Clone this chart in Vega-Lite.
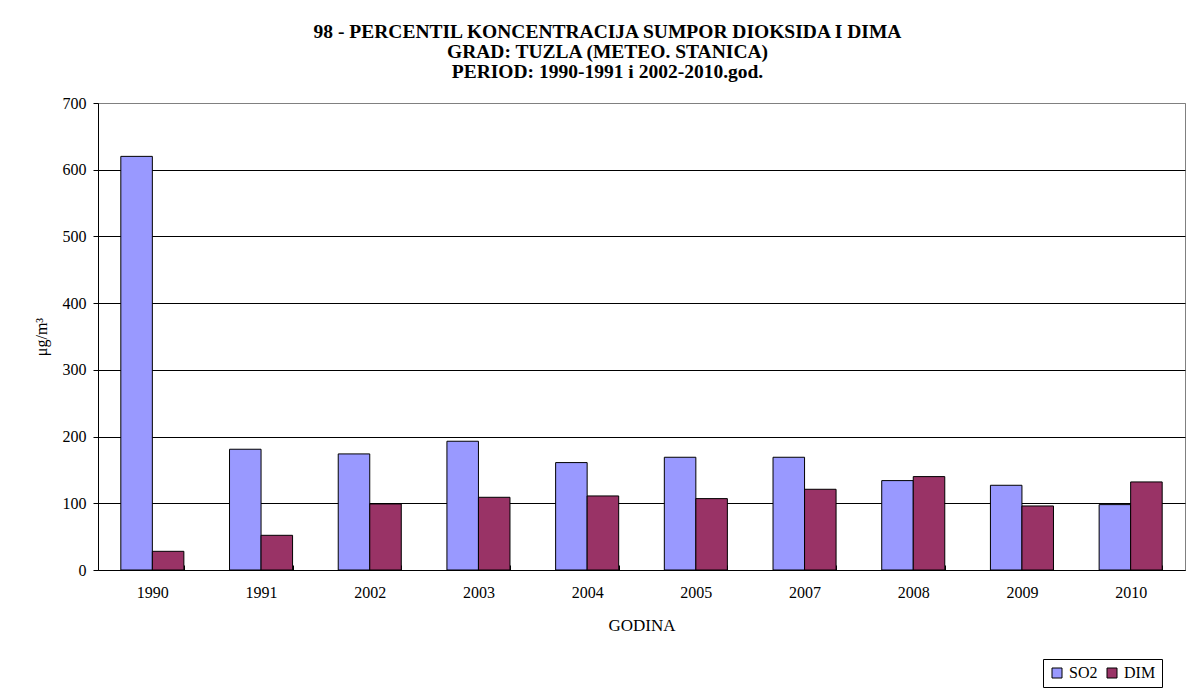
{
  "$schema": "https://vega.github.io/schema/vega-lite/v6.json",
  "autosize": "none",
  "width": 1087,
  "height": 467,
  "padding": {"left": 98, "top": 103, "right": 4, "bottom": 123},
  "background": "white",
  "title": {
    "text": ["98 - PERCENTIL KONCENTRACIJA SUMPOR DIOKSIDA I DIMA", "GRAD: TUZLA (METEO. STANICA)", "PERIOD: 1990-1991 i 2002-2010.god."],
    "anchor": "middle",
    "frame": "group",
    "dx": -34,
    "font": "Liberation Serif",
    "fontSize": 19.5,
    "fontWeight": "bold",
    "color": "black",
    "lineHeight": 20,
    "offset": 13
  },
  "data": {
    "values": [
      {"godina": "1990", "serija": "SO2", "vrijednost": 620},
      {"godina": "1990", "serija": "DIM", "vrijednost": 28},
      {"godina": "1991", "serija": "SO2", "vrijednost": 181},
      {"godina": "1991", "serija": "DIM", "vrijednost": 52},
      {"godina": "2002", "serija": "SO2", "vrijednost": 174},
      {"godina": "2002", "serija": "DIM", "vrijednost": 99},
      {"godina": "2003", "serija": "SO2", "vrijednost": 193},
      {"godina": "2003", "serija": "DIM", "vrijednost": 109},
      {"godina": "2004", "serija": "SO2", "vrijednost": 161},
      {"godina": "2004", "serija": "DIM", "vrijednost": 111},
      {"godina": "2005", "serija": "SO2", "vrijednost": 169},
      {"godina": "2005", "serija": "DIM", "vrijednost": 107},
      {"godina": "2007", "serija": "SO2", "vrijednost": 169},
      {"godina": "2007", "serija": "DIM", "vrijednost": 121},
      {"godina": "2008", "serija": "SO2", "vrijednost": 134},
      {"godina": "2008", "serija": "DIM", "vrijednost": 140},
      {"godina": "2009", "serija": "SO2", "vrijednost": 127},
      {"godina": "2009", "serija": "DIM", "vrijednost": 96},
      {"godina": "2010", "serija": "SO2", "vrijednost": 98},
      {"godina": "2010", "serija": "DIM", "vrijednost": 132}
    ]
  },
  "mark": {"type": "bar", "stroke": "black", "strokeWidth": 1},
  "encoding": {
    "x": {
      "field": "godina",
      "type": "nominal",
      "sort": null,
      "scale": {"paddingInner": 0.42, "paddingOuter": 0.21},
      "axis": {
        "title": "GODINA",
        "labelAngle": 0,
        "tickBand": "extent",
        "tickSize": -5,
        "tickColor": "black",
        "domainColor": "black",
        "labelPadding": 19,
        "labelFontSize": 16,
        "titleFontSize": 17,
        "titleFontWeight": "normal",
        "titlePadding": 17,
        "grid": false
      }
    },
    "xOffset": {
      "field": "serija",
      "type": "nominal",
      "sort": ["SO2", "DIM"],
      "scale": {"paddingInner": 0, "paddingOuter": 0}
    },
    "y": {
      "field": "vrijednost",
      "type": "quantitative",
      "scale": {"domain": [0, 700], "nice": false},
      "axis": {
        "title": "μg/m³",
        "values": [0, 100, 200, 300, 400, 500, 600, 700],
        "grid": true,
        "gridColor": {"condition": {"test": "datum.value === 700", "value": "#808080"}, "value": "black"},
        "gridOpacity": 1,
        "gridWidth": 1,
        "tickSize": 5,
        "tickColor": "black",
        "domainColor": "black",
        "labelPadding": 7,
        "labelFontSize": 16,
        "titleFontSize": 16,
        "titleFontWeight": "normal",
        "titlePadding": 13
      }
    },
    "color": {
      "field": "serija",
      "type": "nominal",
      "sort": ["SO2", "DIM"],
      "scale": {"domain": ["SO2", "DIM"], "range": ["#9999FF", "#993366"]},
      "legend": {
        "title": null,
        "orient": "none",
        "legendX": 945,
        "legendY": 556,
        "direction": "horizontal",
        "strokeColor": "black",
        "padding": 6,
        "symbolType": "square",
        "symbolSize": 100,
        "symbolStrokeColor": "black",
        "symbolStrokeWidth": 1,
        "symbolOpacity": 1,
        "labelFontSize": 16,
        "labelColor": "black",
        "columnPadding": 6,
        "labelOffset": 4
      }
    }
  },
  "config": {
    "font": "Liberation Serif",
    "view": {"stroke": "#808080", "strokeWidth": 1},
    "axis": {"labelColor": "black", "titleColor": "black", "domainWidth": 1, "tickWidth": 1, "labelFont": "Liberation Serif", "titleFont": "Liberation Serif"},
    "legend": {"labelFont": "Liberation Serif"}
  }
}
